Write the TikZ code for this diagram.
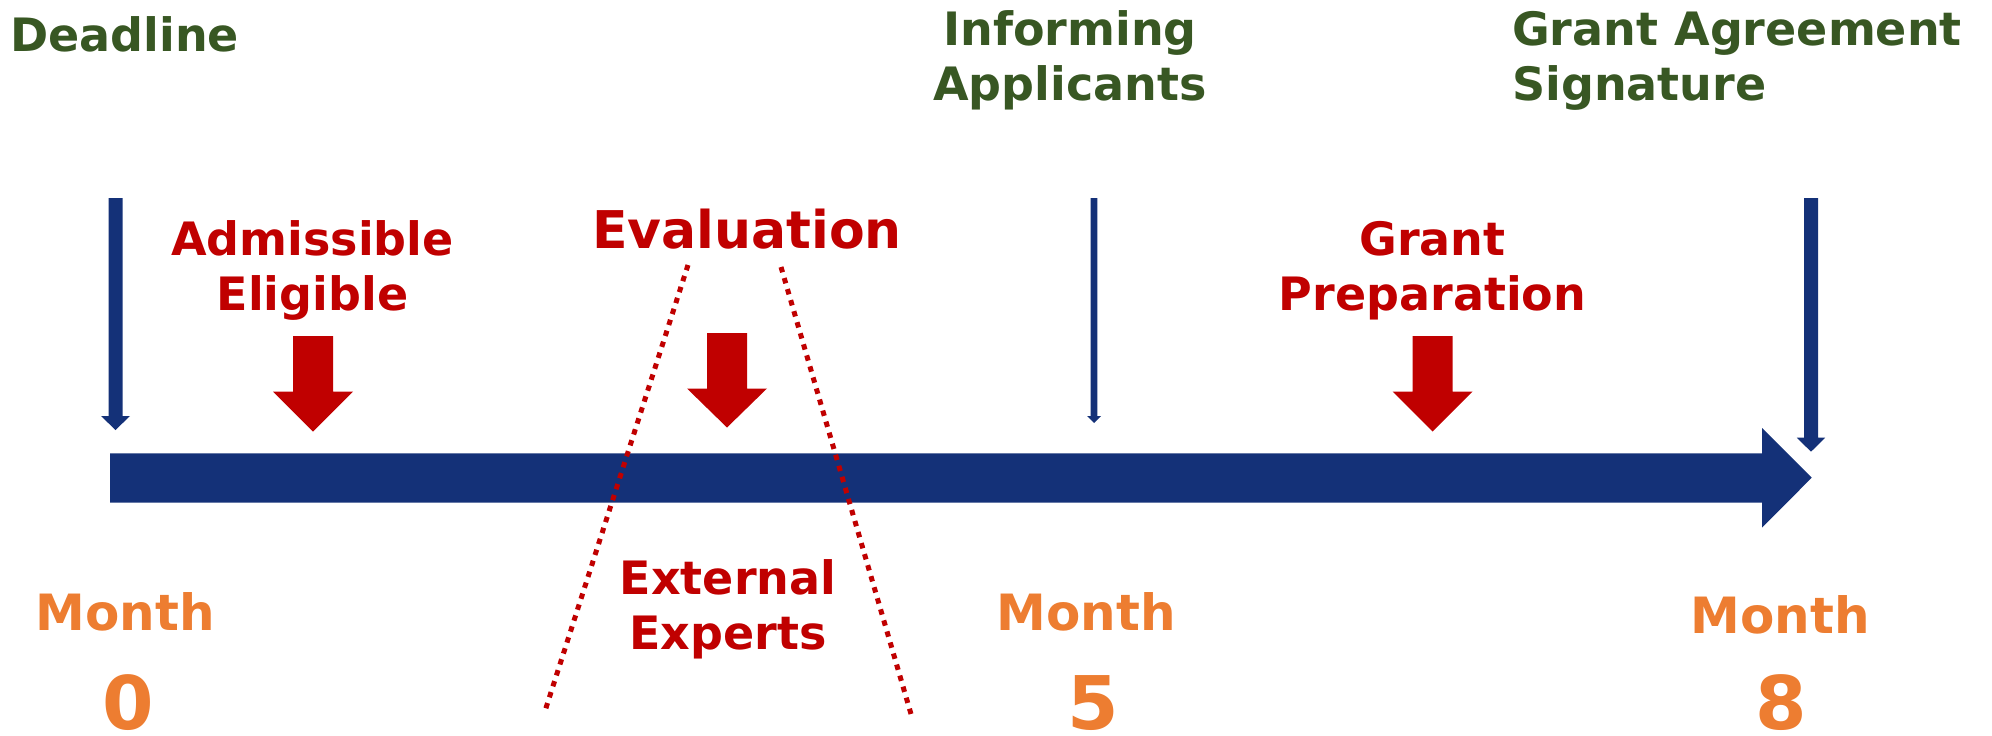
\documentclass[tikz,border=0pt]{standalone}
\usepackage{fontspec}
\setmainfont{DejaVu Sans}
\definecolor{dgreen}{RGB}{56,87,35}
\definecolor{dred}{RGB}{192,0,0}
\definecolor{dblue}{RGB}{20,49,120}
\definecolor{orng}{RGB}{237,125,49}
\begin{document}
\begin{tikzpicture}[x=1pt,y=-1pt,
  txt/.style={inner sep=0pt, anchor=base, font=\bfseries\fontsize{46}{55}\selectfont},
  gtxt/.style={txt, text=dgreen},
  rtxt/.style={txt, text=dred},
  mtxt/.style={inner sep=0pt, anchor=base, text=orng, font=\bfseries\fontsize{50}{60}\selectfont},
  ntxt/.style={inner sep=0pt, anchor=base, text depth=0pt, text=orng, font=\bfseries\fontsize{74}{88}\selectfont},
  bluefill/.style={fill=dblue},
  redfill/.style={fill=dred},
  dotline/.style={draw=dred, line width=5pt, dash pattern=on 5.5pt off 6pt}]
\useasboundingbox (0,0) rectangle (1992,736);

% top labels
\node[gtxt, anchor=base west] (dl) at (10,51) {Deadline};
\node[gtxt] (inf1) at (1070,45.5) {Informing};
\node[gtxt] (inf2) at (1070,100.5) {Applicants};
\node[gtxt, anchor=base west] (gas1) at (1512,45) {Grant Agreement};
\node[gtxt, anchor=base west] (gas2) at (1512,100.5) {Signature};

% red phase labels
\node[rtxt] (adm1) at (312.5,255) {Admissible};
\node[rtxt] (adm2) at (312.5,310) {Eligible};
\node[rtxt, font=\bfseries\fontsize{52}{60}\selectfont] (eval) at (747,248) {Evaluation};
\node[rtxt] (gp1) at (1432.5,255) {Grant};
\node[rtxt] (gp2) at (1432.5,310) {Preparation};
\node[rtxt] (ext1) at (728,594) {External};
\node[rtxt] (ext2) at (728,649) {Experts};

% month labels
\node[mtxt] (m0) at (125,630) {Month};
\node[mtxt] (m5) at (1086,630) {Month};
\node[mtxt] (m8) at (1780,633) {Month};
\node[ntxt] (n0) at (128.5,729) {0};
\node[ntxt] (n5) at (1093,729) {5};
\node[ntxt] (n8) at (1781.5,729) {8};

% main timeline arrow
\fill[bluefill] (110,453.3) -- (1762,453.3) -- (1762,428) -- (1811.7,477.7)
  -- (1762,527.7) -- (1762,502.7) -- (110,502.7) -- cycle;

% thin blue milestone arrows
\fill[bluefill] (108.5,198) -- (122.5,198) -- (122.5,416) -- (130,416) -- (115.5,430)
  -- (101,416) -- (108.5,416) -- cycle;
\fill[bluefill] (1090.7,198) -- (1097.3,198) -- (1097.3,416) -- (1101,416) -- (1094,423)
  -- (1087,416) -- (1090.7,416) -- cycle;
\fill[bluefill] (1804,198) -- (1818,198) -- (1818,437.7) -- (1825.2,437.7) -- (1811,451.7)
  -- (1796.8,437.7) -- (1804,437.7) -- cycle;

% red block arrows
\fill[redfill] (293,336) -- (333,336) -- (333,391.5) -- (353,391.5) -- (313,431.5)
  -- (273,391.5) -- (293,391.5) -- cycle;
\fill[redfill] (707,333) -- (747,333) -- (747,388.5) -- (767,388.5) -- (727,427.5)
  -- (687,388.5) -- (707,388.5) -- cycle;
\fill[redfill] (1412.5,336) -- (1452.5,336) -- (1452.5,391.5) -- (1472.5,391.5) -- (1432.5,431.5)
  -- (1392.5,391.5) -- (1412.5,391.5) -- cycle;

% dotted evaluation funnel
\draw[dotline] (688,265) -- (545,711);
\draw[dotline] (781,267) -- (911,714);
\end{tikzpicture}
\end{document}
